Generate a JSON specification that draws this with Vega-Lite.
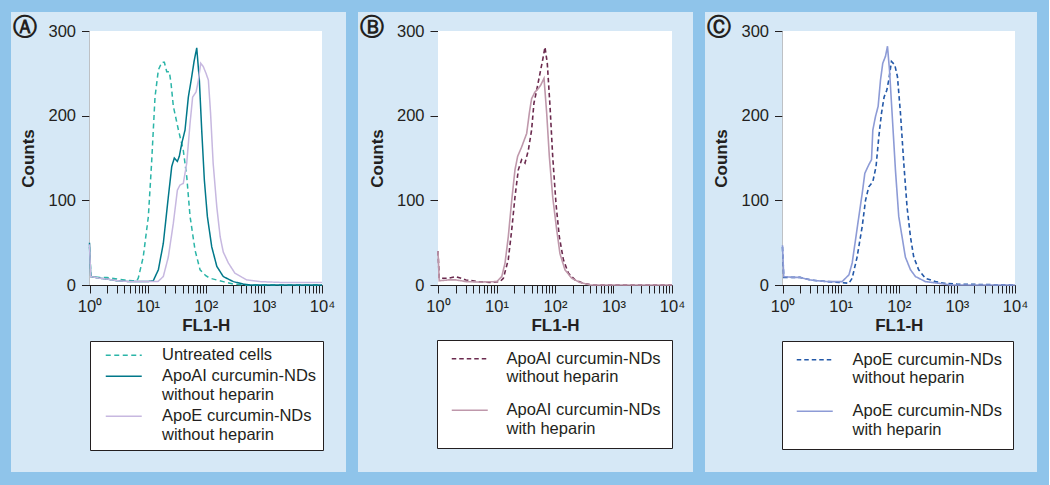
{
  "$schema": "https://vega.github.io/schema/vega-lite/v6.json",
  "background": "#8fc4ea",
  "padding": {"left": 11, "top": 12, "right": 12, "bottom": 13},
  "spacing": 12,
  "config": {
    "view": {"fill": "#d6e8f6", "stroke": null},
    "font": "Liberation Sans",
    "axis": {
      "grid": false, "zindex": 1, "tickSize": 8, "tickColor": "#231f20", "domainColor": "#231f20",
      "labelFont": "Liberation Sans", "labelFontSize": 16.5, "labelColor": "#231f20",
      "titleFont": "Liberation Sans", "titleFontSize": 17, "titleFontWeight": "bold", "titleColor": "#231f20"
    },
    "title": {"font": "DejaVu Sans", "fontSize": 24, "fontWeight": "bold", "color": "#231f20", "anchor": "start", "frame": "group", "baseline": "top", "offset": -28, "dx": 2},
    "legend": {
      "orient": "none", "title": null, "fillColor": "white", "strokeColor": "#231f20",
      "symbolType": "M-3,0H3", "symbolSize": 144, "symbolStrokeWidth": 1.5,
      "labelFont": "Liberation Sans", "labelFontSize": 16.5, "labelColor": "#231f20", "labelLimit": 400,
      "labelBaseline": "middle", "direction": "vertical"
    }
  },
  "resolve": {
    "scale": {"x": "independent", "y": "independent", "color": "independent", "strokeDash": "independent"},
    "legend": {"color": "independent", "strokeDash": "independent"}
  },
  "datasets": {
    "a": [
      {"s": "Untreated cells", "x": 1, "y": 45}, {"s": "Untreated cells", "x": 1.06, "y": 10}, {"s": "Untreated cells", "x": 1.5, "y": 9}, {"s": "Untreated cells", "x": 2, "y": 9}, {"s": "Untreated cells", "x": 3, "y": 7}, {"s": "Untreated cells", "x": 4, "y": 6}, {"s": "Untreated cells", "x": 5.5, "y": 5}, {"s": "Untreated cells", "x": 6.5, "y": 5}, {"s": "Untreated cells", "x": 6.9, "y": 8}, {"s": "Untreated cells", "x": 8.4, "y": 33}, {"s": "Untreated cells", "x": 10.3, "y": 81}, {"s": "Untreated cells", "x": 11.7, "y": 144}, {"s": "Untreated cells", "x": 13.4, "y": 222}, {"s": "Untreated cells", "x": 15.3, "y": 254}, {"s": "Untreated cells", "x": 17.5, "y": 263}, {"s": "Untreated cells", "x": 19.4, "y": 263}, {"s": "Untreated cells", "x": 21.3, "y": 252}, {"s": "Untreated cells", "x": 23.6, "y": 252}, {"s": "Untreated cells", "x": 25.3, "y": 238}, {"s": "Untreated cells", "x": 27.7, "y": 211}, {"s": "Untreated cells", "x": 33.9, "y": 183}, {"s": "Untreated cells", "x": 41.1, "y": 159}, {"s": "Untreated cells", "x": 47.1, "y": 128}, {"s": "Untreated cells", "x": 53.7, "y": 81}, {"s": "Untreated cells", "x": 65.5, "y": 41}, {"s": "Untreated cells", "x": 79.8, "y": 18}, {"s": "Untreated cells", "x": 100, "y": 11}, {"s": "Untreated cells", "x": 118.6, "y": 8}, {"s": "Untreated cells", "x": 200, "y": 4}, {"s": "Untreated cells", "x": 300, "y": 1}, {"s": "Untreated cells", "x": 500, "y": 0}, {"s": "Untreated cells", "x": 10000, "y": 0},
      {"s": "ApoAI curcumin-NDs|without heparin", "x": 1, "y": 50}, {"s": "ApoAI curcumin-NDs|without heparin", "x": 1.05, "y": 10}, {"s": "ApoAI curcumin-NDs|without heparin", "x": 1.5, "y": 8}, {"s": "ApoAI curcumin-NDs|without heparin", "x": 2, "y": 7}, {"s": "ApoAI curcumin-NDs|without heparin", "x": 3, "y": 5}, {"s": "ApoAI curcumin-NDs|without heparin", "x": 5, "y": 4}, {"s": "ApoAI curcumin-NDs|without heparin", "x": 10, "y": 4}, {"s": "ApoAI curcumin-NDs|without heparin", "x": 12.5, "y": 5}, {"s": "ApoAI curcumin-NDs|without heparin", "x": 15.3, "y": 18}, {"s": "ApoAI curcumin-NDs|without heparin", "x": 18.6, "y": 49}, {"s": "ApoAI curcumin-NDs|without heparin", "x": 22.7, "y": 104}, {"s": "ApoAI curcumin-NDs|without heparin", "x": 26, "y": 140}, {"s": "ApoAI curcumin-NDs|without heparin", "x": 28.8, "y": 150}, {"s": "ApoAI curcumin-NDs|without heparin", "x": 32.5, "y": 146}, {"s": "ApoAI curcumin-NDs|without heparin", "x": 35.1, "y": 152}, {"s": "ApoAI curcumin-NDs|without heparin", "x": 38.6, "y": 167}, {"s": "ApoAI curcumin-NDs|without heparin", "x": 44, "y": 183}, {"s": "ApoAI curcumin-NDs|without heparin", "x": 50.2, "y": 222}, {"s": "ApoAI curcumin-NDs|without heparin", "x": 57.4, "y": 246}, {"s": "ApoAI curcumin-NDs|without heparin", "x": 62.9, "y": 264}, {"s": "ApoAI curcumin-NDs|without heparin", "x": 70, "y": 280}, {"s": "ApoAI curcumin-NDs|without heparin", "x": 77.6, "y": 242}, {"s": "ApoAI curcumin-NDs|without heparin", "x": 85.2, "y": 183}, {"s": "ApoAI curcumin-NDs|without heparin", "x": 94.6, "y": 124}, {"s": "ApoAI curcumin-NDs|without heparin", "x": 106.6, "y": 81}, {"s": "ApoAI curcumin-NDs|without heparin", "x": 126.8, "y": 45}, {"s": "ApoAI curcumin-NDs|without heparin", "x": 155, "y": 22}, {"s": "ApoAI curcumin-NDs|without heparin", "x": 200, "y": 10}, {"s": "ApoAI curcumin-NDs|without heparin", "x": 298, "y": 4}, {"s": "ApoAI curcumin-NDs|without heparin", "x": 443, "y": 1}, {"s": "ApoAI curcumin-NDs|without heparin", "x": 600, "y": 0}, {"s": "ApoAI curcumin-NDs|without heparin", "x": 10000, "y": 0},
      {"s": "ApoE curcumin-NDs|without heparin", "x": 1, "y": 48}, {"s": "ApoE curcumin-NDs|without heparin", "x": 1.05, "y": 10}, {"s": "ApoE curcumin-NDs|without heparin", "x": 1.5, "y": 8}, {"s": "ApoE curcumin-NDs|without heparin", "x": 2, "y": 7}, {"s": "ApoE curcumin-NDs|without heparin", "x": 3, "y": 5}, {"s": "ApoE curcumin-NDs|without heparin", "x": 5, "y": 4}, {"s": "ApoE curcumin-NDs|without heparin", "x": 10, "y": 4}, {"s": "ApoE curcumin-NDs|without heparin", "x": 15, "y": 4}, {"s": "ApoE curcumin-NDs|without heparin", "x": 18.6, "y": 10}, {"s": "ApoE curcumin-NDs|without heparin", "x": 22.7, "y": 33}, {"s": "ApoE curcumin-NDs|without heparin", "x": 27.7, "y": 73}, {"s": "ApoE curcumin-NDs|without heparin", "x": 32.5, "y": 112}, {"s": "ApoE curcumin-NDs|without heparin", "x": 36, "y": 118}, {"s": "ApoE curcumin-NDs|without heparin", "x": 41.1, "y": 120}, {"s": "ApoE curcumin-NDs|without heparin", "x": 47.1, "y": 144}, {"s": "ApoE curcumin-NDs|without heparin", "x": 53.7, "y": 191}, {"s": "ApoE curcumin-NDs|without heparin", "x": 59.5, "y": 222}, {"s": "ApoE curcumin-NDs|without heparin", "x": 68.2, "y": 228}, {"s": "ApoE curcumin-NDs|without heparin", "x": 74.8, "y": 242}, {"s": "ApoE curcumin-NDs|without heparin", "x": 81.9, "y": 262}, {"s": "ApoE curcumin-NDs|without heparin", "x": 90.6, "y": 258}, {"s": "ApoE curcumin-NDs|without heparin", "x": 101, "y": 250}, {"s": "ApoE curcumin-NDs|without heparin", "x": 111, "y": 242}, {"s": "ApoE curcumin-NDs|without heparin", "x": 121, "y": 203}, {"s": "ApoE curcumin-NDs|without heparin", "x": 134, "y": 144}, {"s": "ApoE curcumin-NDs|without heparin", "x": 155, "y": 92}, {"s": "ApoE curcumin-NDs|without heparin", "x": 177, "y": 57}, {"s": "ApoE curcumin-NDs|without heparin", "x": 200, "y": 39}, {"s": "ApoE curcumin-NDs|without heparin", "x": 245, "y": 26}, {"s": "ApoE curcumin-NDs|without heparin", "x": 317, "y": 14}, {"s": "ApoE curcumin-NDs|without heparin", "x": 507, "y": 6}, {"s": "ApoE curcumin-NDs|without heparin", "x": 860, "y": 4}, {"s": "ApoE curcumin-NDs|without heparin", "x": 2000, "y": 3}, {"s": "ApoE curcumin-NDs|without heparin", "x": 10000, "y": 3}
    ],
    "b": [
      {"s": "ApoAI curcumin-NDs|without heparin", "x": 1, "y": 40}, {"s": "ApoAI curcumin-NDs|without heparin", "x": 1.05, "y": 8}, {"s": "ApoAI curcumin-NDs|without heparin", "x": 1.5, "y": 8}, {"s": "ApoAI curcumin-NDs|without heparin", "x": 2, "y": 10}, {"s": "ApoAI curcumin-NDs|without heparin", "x": 2.5, "y": 8}, {"s": "ApoAI curcumin-NDs|without heparin", "x": 3, "y": 6}, {"s": "ApoAI curcumin-NDs|without heparin", "x": 5, "y": 4}, {"s": "ApoAI curcumin-NDs|without heparin", "x": 8, "y": 3}, {"s": "ApoAI curcumin-NDs|without heparin", "x": 11.5, "y": 4}, {"s": "ApoAI curcumin-NDs|without heparin", "x": 13.1, "y": 8}, {"s": "ApoAI curcumin-NDs|without heparin", "x": 15.9, "y": 30}, {"s": "ApoAI curcumin-NDs|without heparin", "x": 18.2, "y": 65}, {"s": "ApoAI curcumin-NDs|without heparin", "x": 20.7, "y": 104}, {"s": "ApoAI curcumin-NDs|without heparin", "x": 23.6, "y": 136}, {"s": "ApoAI curcumin-NDs|without heparin", "x": 26.9, "y": 148}, {"s": "ApoAI curcumin-NDs|without heparin", "x": 30.7, "y": 144}, {"s": "ApoAI curcumin-NDs|without heparin", "x": 35, "y": 159}, {"s": "ApoAI curcumin-NDs|without heparin", "x": 39.8, "y": 183}, {"s": "ApoAI curcumin-NDs|without heparin", "x": 43.7, "y": 215}, {"s": "ApoAI curcumin-NDs|without heparin", "x": 48.6, "y": 230}, {"s": "ApoAI curcumin-NDs|without heparin", "x": 55.4, "y": 250}, {"s": "ApoAI curcumin-NDs|without heparin", "x": 61.6, "y": 266}, {"s": "ApoAI curcumin-NDs|without heparin", "x": 67.4, "y": 281}, {"s": "ApoAI curcumin-NDs|without heparin", "x": 73.8, "y": 262}, {"s": "ApoAI curcumin-NDs|without heparin", "x": 82.2, "y": 211}, {"s": "ApoAI curcumin-NDs|without heparin", "x": 91.3, "y": 152}, {"s": "ApoAI curcumin-NDs|without heparin", "x": 104, "y": 96}, {"s": "ApoAI curcumin-NDs|without heparin", "x": 118.5, "y": 57}, {"s": "ApoAI curcumin-NDs|without heparin", "x": 139, "y": 30}, {"s": "ApoAI curcumin-NDs|without heparin", "x": 169, "y": 14}, {"s": "ApoAI curcumin-NDs|without heparin", "x": 220, "y": 6}, {"s": "ApoAI curcumin-NDs|without heparin", "x": 305, "y": 2}, {"s": "ApoAI curcumin-NDs|without heparin", "x": 450, "y": 0}, {"s": "ApoAI curcumin-NDs|without heparin", "x": 10000, "y": 0},
      {"s": "ApoAI curcumin-NDs|with heparin", "x": 1, "y": 40}, {"s": "ApoAI curcumin-NDs|with heparin", "x": 1.05, "y": 5}, {"s": "ApoAI curcumin-NDs|with heparin", "x": 1.5, "y": 6}, {"s": "ApoAI curcumin-NDs|with heparin", "x": 2, "y": 6}, {"s": "ApoAI curcumin-NDs|with heparin", "x": 2.5, "y": 5}, {"s": "ApoAI curcumin-NDs|with heparin", "x": 3, "y": 4}, {"s": "ApoAI curcumin-NDs|with heparin", "x": 5, "y": 3.5}, {"s": "ApoAI curcumin-NDs|with heparin", "x": 10.1, "y": 4}, {"s": "ApoAI curcumin-NDs|with heparin", "x": 12.3, "y": 10}, {"s": "ApoAI curcumin-NDs|with heparin", "x": 14, "y": 26}, {"s": "ApoAI curcumin-NDs|with heparin", "x": 15.9, "y": 57}, {"s": "ApoAI curcumin-NDs|with heparin", "x": 18.2, "y": 100}, {"s": "ApoAI curcumin-NDs|with heparin", "x": 20.7, "y": 136}, {"s": "ApoAI curcumin-NDs|with heparin", "x": 23, "y": 152}, {"s": "ApoAI curcumin-NDs|with heparin", "x": 26.9, "y": 163}, {"s": "ApoAI curcumin-NDs|with heparin", "x": 32.8, "y": 179}, {"s": "ApoAI curcumin-NDs|with heparin", "x": 36.4, "y": 203}, {"s": "ApoAI curcumin-NDs|with heparin", "x": 39.8, "y": 220}, {"s": "ApoAI curcumin-NDs|with heparin", "x": 45.5, "y": 228}, {"s": "ApoAI curcumin-NDs|with heparin", "x": 51.9, "y": 232}, {"s": "ApoAI curcumin-NDs|with heparin", "x": 56.9, "y": 236}, {"s": "ApoAI curcumin-NDs|with heparin", "x": 64.9, "y": 244}, {"s": "ApoAI curcumin-NDs|with heparin", "x": 72.1, "y": 203}, {"s": "ApoAI curcumin-NDs|with heparin", "x": 80, "y": 152}, {"s": "ApoAI curcumin-NDs|with heparin", "x": 91.3, "y": 104}, {"s": "ApoAI curcumin-NDs|with heparin", "x": 107, "y": 65}, {"s": "ApoAI curcumin-NDs|with heparin", "x": 121.6, "y": 37}, {"s": "ApoAI curcumin-NDs|with heparin", "x": 148, "y": 18}, {"s": "ApoAI curcumin-NDs|with heparin", "x": 193, "y": 8}, {"s": "ApoAI curcumin-NDs|with heparin", "x": 267, "y": 3}, {"s": "ApoAI curcumin-NDs|with heparin", "x": 400, "y": 0}, {"s": "ApoAI curcumin-NDs|with heparin", "x": 10000, "y": 0}
    ],
    "c": [
      {"s": "ApoE curcumin-NDs|without heparin", "x": 1, "y": 45}, {"s": "ApoE curcumin-NDs|without heparin", "x": 1.05, "y": 9}, {"s": "ApoE curcumin-NDs|without heparin", "x": 1.5, "y": 9}, {"s": "ApoE curcumin-NDs|without heparin", "x": 2, "y": 9}, {"s": "ApoE curcumin-NDs|without heparin", "x": 3, "y": 6}, {"s": "ApoE curcumin-NDs|without heparin", "x": 4, "y": 5}, {"s": "ApoE curcumin-NDs|without heparin", "x": 6, "y": 4}, {"s": "ApoE curcumin-NDs|without heparin", "x": 10, "y": 3}, {"s": "ApoE curcumin-NDs|without heparin", "x": 13.9, "y": 2}, {"s": "ApoE curcumin-NDs|without heparin", "x": 15.8, "y": 8}, {"s": "ApoE curcumin-NDs|without heparin", "x": 19.2, "y": 33}, {"s": "ApoE curcumin-NDs|without heparin", "x": 23.5, "y": 69}, {"s": "ApoE curcumin-NDs|without heparin", "x": 26.8, "y": 100}, {"s": "ApoE curcumin-NDs|without heparin", "x": 30.5, "y": 116}, {"s": "ApoE curcumin-NDs|without heparin", "x": 35.8, "y": 122}, {"s": "ApoE curcumin-NDs|without heparin", "x": 40.7, "y": 140}, {"s": "ApoE curcumin-NDs|without heparin", "x": 45.4, "y": 175}, {"s": "ApoE curcumin-NDs|without heparin", "x": 50.5, "y": 203}, {"s": "ApoE curcumin-NDs|without heparin", "x": 56, "y": 222}, {"s": "ApoE curcumin-NDs|without heparin", "x": 62.2, "y": 230}, {"s": "ApoE curcumin-NDs|without heparin", "x": 67.3, "y": 242}, {"s": "ApoE curcumin-NDs|without heparin", "x": 74.9, "y": 264}, {"s": "ApoE curcumin-NDs|without heparin", "x": 85.4, "y": 260}, {"s": "ApoE curcumin-NDs|without heparin", "x": 95, "y": 246}, {"s": "ApoE curcumin-NDs|without heparin", "x": 107, "y": 203}, {"s": "ApoE curcumin-NDs|without heparin", "x": 122, "y": 144}, {"s": "ApoE curcumin-NDs|without heparin", "x": 139, "y": 92}, {"s": "ApoE curcumin-NDs|without heparin", "x": 159, "y": 57}, {"s": "ApoE curcumin-NDs|without heparin", "x": 181, "y": 33}, {"s": "ApoE curcumin-NDs|without heparin", "x": 220, "y": 18}, {"s": "ApoE curcumin-NDs|without heparin", "x": 287, "y": 8}, {"s": "ApoE curcumin-NDs|without heparin", "x": 427, "y": 4}, {"s": "ApoE curcumin-NDs|without heparin", "x": 600, "y": 2}, {"s": "ApoE curcumin-NDs|without heparin", "x": 1000, "y": 1}, {"s": "ApoE curcumin-NDs|without heparin", "x": 10000, "y": 0},
      {"s": "ApoE curcumin-NDs|with heparin", "x": 1, "y": 47}, {"s": "ApoE curcumin-NDs|with heparin", "x": 1.05, "y": 10}, {"s": "ApoE curcumin-NDs|with heparin", "x": 1.5, "y": 9}, {"s": "ApoE curcumin-NDs|with heparin", "x": 2, "y": 9}, {"s": "ApoE curcumin-NDs|with heparin", "x": 3, "y": 6}, {"s": "ApoE curcumin-NDs|with heparin", "x": 4, "y": 5}, {"s": "ApoE curcumin-NDs|with heparin", "x": 6, "y": 4}, {"s": "ApoE curcumin-NDs|with heparin", "x": 10.6, "y": 4}, {"s": "ApoE curcumin-NDs|with heparin", "x": 13.9, "y": 12}, {"s": "ApoE curcumin-NDs|with heparin", "x": 15.8, "y": 26}, {"s": "ApoE curcumin-NDs|with heparin", "x": 18, "y": 53}, {"s": "ApoE curcumin-NDs|with heparin", "x": 20.6, "y": 81}, {"s": "ApoE curcumin-NDs|with heparin", "x": 23.5, "y": 108}, {"s": "ApoE curcumin-NDs|with heparin", "x": 26.1, "y": 132}, {"s": "ApoE curcumin-NDs|with heparin", "x": 30.5, "y": 142}, {"s": "ApoE curcumin-NDs|with heparin", "x": 34, "y": 148}, {"s": "ApoE curcumin-NDs|with heparin", "x": 35.8, "y": 183}, {"s": "ApoE curcumin-NDs|with heparin", "x": 39.8, "y": 199}, {"s": "ApoE curcumin-NDs|with heparin", "x": 44.2, "y": 211}, {"s": "ApoE curcumin-NDs|with heparin", "x": 48.5, "y": 242}, {"s": "ApoE curcumin-NDs|with heparin", "x": 53.1, "y": 262}, {"s": "ApoE curcumin-NDs|with heparin", "x": 59.1, "y": 270}, {"s": "ApoE curcumin-NDs|with heparin", "x": 64, "y": 282}, {"s": "ApoE curcumin-NDs|with heparin", "x": 69.3, "y": 254}, {"s": "ApoE curcumin-NDs|with heparin", "x": 76.8, "y": 203}, {"s": "ApoE curcumin-NDs|with heparin", "x": 87.7, "y": 136}, {"s": "ApoE curcumin-NDs|with heparin", "x": 100, "y": 81}, {"s": "ApoE curcumin-NDs|with heparin", "x": 114, "y": 57}, {"s": "ApoE curcumin-NDs|with heparin", "x": 130, "y": 33}, {"s": "ApoE curcumin-NDs|with heparin", "x": 159, "y": 18}, {"s": "ApoE curcumin-NDs|with heparin", "x": 194, "y": 10}, {"s": "ApoE curcumin-NDs|with heparin", "x": 287, "y": 4}, {"s": "ApoE curcumin-NDs|with heparin", "x": 486, "y": 2}, {"s": "ApoE curcumin-NDs|with heparin", "x": 800, "y": 0}, {"s": "ApoE curcumin-NDs|with heparin", "x": 10000, "y": 0}
    ]
  },
  "hconcat": [
    {
      "width": 335, "height": 460,
      "title": {"text": "Ⓐ"},
      "layer": [
        {
          "data": {"values": [{}]},
          "mark": {"type": "rect", "fill": "white"},
          "encoding": {"x": {"datum": 1, "type": "quantitative"}, "x2": {"datum": 10000}, "y": {"datum": 0, "type": "quantitative"}, "y2": {"datum": 300}}
        },
        {
          "data": {"name": "a"},
          "mark": {"type": "line", "strokeWidth": 1.5},
          "encoding": {
            "x": {"field": "x", "type": "quantitative",
              "scale": {"type": "log", "domain": [1, 10000], "range": [78.5, 311]},
              "axis": {"orient": "bottom", "offset": -187, "values": [1,2,3,4,5,6,7,8,9,10,20,30,40,50,60,70,80,90,100,200,300,400,500,600,700,800,900,1000,2000,3000,4000,5000,6000,7000,8000,9000,10000],
                "labelExpr": "datum.value == 1 ? '10⁰' : datum.value == 10 ? '10¹' : datum.value == 100 ? '10²' : datum.value == 1000 ? '10³' : datum.value == 10000 ? '10⁴' : ''",
                "labelOverlap": false, "labelFlush": false, "labelPadding": 5, "title": "FL1-H", "titlePadding": 3}},
            "y": {"field": "y", "type": "quantitative",
              "scale": {"domain": [0, 300], "range": [273, 19]},
              "axis": {"orient": "left", "offset": -78.5, "values": [0, 100, 200, 300], "labelPadding": 6, "title": "Counts", "titlePadding": 10}},
            "color": {"field": "s", "type": "nominal",
              "scale": {"domain": ["Untreated cells", "ApoAI curcumin-NDs|without heparin", "ApoE curcumin-NDs|without heparin"], "range": ["#2bb5a8", "#00788a", "#c7b8e0"]},
              "legend": {"legendX": 79, "legendY": 329, "padding": 6, "rowPadding": 4, "symbolOffset": 19.5, "labelOffset": 30, "labelExpr": "split(datum.label, '|')"}},
            "strokeDash": {"field": "s", "type": "nominal",
              "scale": {"domain": ["Untreated cells", "ApoAI curcumin-NDs|without heparin", "ApoE curcumin-NDs|without heparin"], "range": [[5, 3.5], [1, 0], [1, 0]]},
              "legend": {"legendX": 79, "legendY": 329, "padding": 6, "rowPadding": 4, "symbolOffset": 19.5, "labelOffset": 30, "labelExpr": "split(datum.label, '|')"}}
          }
        }
      ]
    },
    {
      "width": 335, "height": 460,
      "title": {"text": "Ⓑ"},
      "layer": [
        {
          "data": {"values": [{}]},
          "mark": {"type": "rect", "fill": "white"},
          "encoding": {"x": {"datum": 1, "type": "quantitative"}, "x2": {"datum": 10000}, "y": {"datum": 0, "type": "quantitative"}, "y2": {"datum": 300}}
        },
        {
          "data": {"name": "b"},
          "mark": {"type": "line", "strokeWidth": 1.6},
          "encoding": {
            "x": {"field": "x", "type": "quantitative",
              "scale": {"type": "log", "domain": [1, 10000], "range": [80, 314]},
              "axis": {"orient": "bottom", "offset": -187, "values": [1,2,3,4,5,6,7,8,9,10,20,30,40,50,60,70,80,90,100,200,300,400,500,600,700,800,900,1000,2000,3000,4000,5000,6000,7000,8000,9000,10000],
                "labelExpr": "datum.value == 1 ? '10⁰' : datum.value == 10 ? '10¹' : datum.value == 100 ? '10²' : datum.value == 1000 ? '10³' : datum.value == 10000 ? '10⁴' : ''",
                "labelOverlap": false, "labelFlush": false, "labelPadding": 5, "title": "FL1-H", "titlePadding": 3}},
            "y": {"field": "y", "type": "quantitative",
              "scale": {"domain": [0, 300], "range": [273, 19]},
              "axis": {"orient": "left", "offset": -80, "values": [0, 100, 200, 300], "labelPadding": 6, "title": "Counts", "titlePadding": 10}},
            "color": {"field": "s", "type": "nominal",
              "scale": {"domain": ["ApoAI curcumin-NDs|without heparin", "ApoAI curcumin-NDs|with heparin"], "range": ["#6b2a4e", "#bf98ab"]},
              "legend": {"legendX": 79, "legendY": 328, "padding": 10.5, "rowPadding": 15.5, "symbolOffset": 14, "labelOffset": 28.5, "labelExpr": "split(datum.label, '|')"}},
            "strokeDash": {"field": "s", "type": "nominal",
              "scale": {"domain": ["ApoAI curcumin-NDs|without heparin", "ApoAI curcumin-NDs|with heparin"], "range": [[4.5, 3], [1, 0]]},
              "legend": {"legendX": 79, "legendY": 328, "padding": 10.5, "rowPadding": 15.5, "symbolOffset": 14, "labelOffset": 28.5, "labelExpr": "split(datum.label, '|')"}}
          }
        }
      ]
    },
    {
      "width": 332, "height": 460,
      "title": {"text": "Ⓒ"},
      "layer": [
        {
          "data": {"values": [{}]},
          "mark": {"type": "rect", "fill": "white"},
          "encoding": {"x": {"datum": 1, "type": "quantitative"}, "x2": {"datum": 10000}, "y": {"datum": 0, "type": "quantitative"}, "y2": {"datum": 300}}
        },
        {
          "data": {"name": "c"},
          "mark": {"type": "line", "strokeWidth": 1.6},
          "encoding": {
            "x": {"field": "x", "type": "quantitative",
              "scale": {"type": "log", "domain": [1, 10000], "range": [77.5, 310]},
              "axis": {"orient": "bottom", "offset": -187, "values": [1,2,3,4,5,6,7,8,9,10,20,30,40,50,60,70,80,90,100,200,300,400,500,600,700,800,900,1000,2000,3000,4000,5000,6000,7000,8000,9000,10000],
                "labelExpr": "datum.value == 1 ? '10⁰' : datum.value == 10 ? '10¹' : datum.value == 100 ? '10²' : datum.value == 1000 ? '10³' : datum.value == 10000 ? '10⁴' : ''",
                "labelOverlap": false, "labelFlush": false, "labelPadding": 5, "title": "FL1-H", "titlePadding": 3}},
            "y": {"field": "y", "type": "quantitative",
              "scale": {"domain": [0, 300], "range": [273, 19]},
              "axis": {"orient": "left", "offset": -77.5, "values": [0, 100, 200, 300], "labelPadding": 6, "title": "Counts", "titlePadding": 10}},
            "color": {"field": "s", "type": "nominal",
              "scale": {"domain": ["ApoE curcumin-NDs|without heparin", "ApoE curcumin-NDs|with heparin"], "range": ["#2358a8", "#8d9bd6"]},
              "legend": {"legendX": 77, "legendY": 329, "padding": 10.5, "rowPadding": 15.5, "symbolOffset": 14, "labelOffset": 29.5, "labelExpr": "split(datum.label, '|')"}},
            "strokeDash": {"field": "s", "type": "nominal",
              "scale": {"domain": ["ApoE curcumin-NDs|without heparin", "ApoE curcumin-NDs|with heparin"], "range": [[4.5, 3], [1, 0]]},
              "legend": {"legendX": 77, "legendY": 329, "padding": 10.5, "rowPadding": 15.5, "symbolOffset": 14, "labelOffset": 29.5, "labelExpr": "split(datum.label, '|')"}}
          }
        }
      ]
    }
  ]
}
